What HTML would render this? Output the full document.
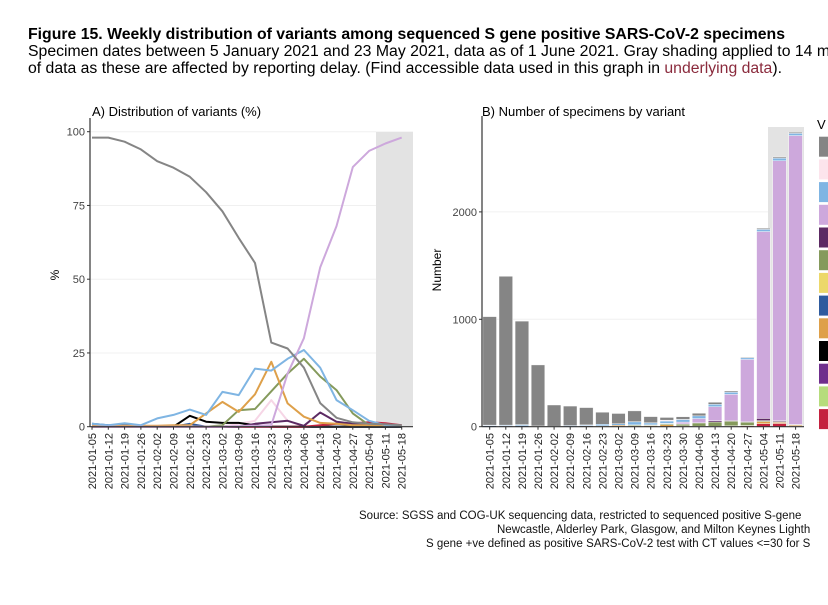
<!DOCTYPE html>
<html><head><meta charset="utf-8"><style>
html,body{margin:0;padding:0;background:#fff;}
svg{display:block;font-family:"Liberation Sans",Arial,sans-serif;}
</style></head><body>
<svg id="fig" width="828" height="605" viewBox="0 0 828 605">
<g>
<text x="28" y="39" font-size="15.5" font-weight="bold" textLength="757" lengthAdjust="spacingAndGlyphs">Figure 15. Weekly distribution of variants among sequenced S gene positive SARS-CoV-2 specimens</text>
<text x="28" y="56" font-size="15.5" textLength="802" lengthAdjust="spacingAndGlyphs">Specimen dates between 5 January 2021 and 23 May 2021, data as of 1 June 2021. Gray shading applied to 14 m</text>
<text x="28" y="73" font-size="15.5" textLength="754" lengthAdjust="spacingAndGlyphs">of data as these are affected by reporting delay. (Find accessible data used in this graph in <tspan fill="#8a2a3c">underlying data</tspan>).</text>
</g>
<g id="panelA"></g>
<g id="panelB"></g>
<g font-size="11.5" fill="#111">
<text x="359" y="519">Source: SGSS and COG-UK sequencing data, restricted to sequenced positive S-gene</text>
<text x="497" y="533">Newcastle, Alderley Park, Glasgow, and Milton Keynes Lighth</text>
<text x="426" y="547">S gene +ve defined as positive SARS-CoV-2 test with CT values &lt;=30 for S</text>
</g>
</svg>
<script>
const dates=["2021-01-05","2021-01-12","2021-01-19","2021-01-26","2021-02-02","2021-02-09","2021-02-16","2021-02-23","2021-03-02","2021-03-09","2021-03-16","2021-03-23","2021-03-30","2021-04-06","2021-04-13","2021-04-20","2021-04-27","2021-05-04","2021-05-11","2021-05-18"];
const pctTicks=[0,25,50,75,100];
const numTicks=[0,1000,2000];
// Panel A shares (%)
const pctGray=[98,98,96.6,94,90,87.8,84.7,79.5,73,64,55.5,28.5,26.5,20,8,3,1.5,1,0.8,0.5];
const pctLilac=[0,0,0,0,0,0,0,0,0,0.2,0.3,0.5,18,30,54,68,88,93.5,96,98];
const pctBlue=[1,0.5,1.2,0.5,2.8,4,5.8,4,11.8,10.7,19.7,19,23,26,20,9,5.6,2,0.5,0.3];
const pctOrange=[0.3,0.3,0.3,0.3,0.3,0.5,0.5,4.5,8.4,5,11,22,7.9,3.4,1.3,1,0.5,0.5,0.4,0.3];
const pctGreen=[0,0,0,0,0,0,0,0,0.5,5.6,6,12,18,23,17,12.4,4.5,0.5,0.3,0.2];
const pctBlack=[0,0,0,0,0,0,3.7,1.7,1.3,1.3,0.5,0,0,0,0,0,0,0,0,0];
const pctDarkPurple=[0,0,0,0,0,0,0,0,0,0,1,1.5,2,0.3,4.8,1.7,1,0.8,0.5,0.3];
const pctRed=[0,0,0,0,0,0,0,0,0,0,0,0,0,0,0.5,1,1.2,1.5,1.2,0.5];
const pctDarkBlue=[1,0.5,0.5,0.3,0,0,1,0,0,0,0,0,0,0,0,0,0,0,0,0];
const pctPink=[0,0,0,0,0,0,0,0,0,1,2,9,2,0,0,0,0,0,0,0];
// Panel B counts
const nGray=[1010,1385,963,568,197,181,161,112,95,100,57,25,25,24,19,11,7,10,10,10];
const nPink=[0,0,0,0,0,0,0,0,0,2,2,8,1,0,0,0,0,0,0,0];
const nBlue=[5,8,10,4,5,10,7,15,14,28,18,22,24,25,22,20,15,20,25,20];
const nLilac=[0,0,0,0,0,0,0,0,0,0,0,1,17,40,130,243,578,1740,2420,2690];
const nDarkPurple=[0,0,0,0,0,0,0,0,0,0,1,1,2,1,12,6,7,20,8,2];
const nGreen=[0,0,0,0,0,0,0,0,1,8,6,10,17,30,40,44,30,9,8,6];
const nDarkBlue=[10,7,10,3,0,0,2,0,0,0,0,0,0,0,0,0,0,0,0,0];
const nOrange=[0,0,0,0,0,1,1,6,11,7,10,19,7,5,3,4,3,20,10,10];
const nBlack=[0,0,0,0,0,0,7,2,2,2,0,0,0,0,0,0,0,0,0,0];
const nRed=[0,0,0,0,0,0,0,0,0,0,0,0,0,0,1,4,8,28,30,3];
const legendColors=["#858585","#fce4ec","#7fb5e3","#cda8dc","#5c2a63","#859a5c","#ecd86a","#2f5b9e","#dea04a","#000000","#6f2e8c","#b6dc7c","#c4223f"];

const NS="http://www.w3.org/2000/svg";
function mk(parent,tag,attrs){const e=document.createElementNS(NS,tag);for(const k in attrs)e.setAttribute(k,attrs[k]);parent.appendChild(e);return e;}

// ---------- Panel A ----------
const A=document.getElementById('panelA');
const ax0=90, ax1=413, ay0=426.7, ay1=131.7;
const xA=i=>92+i*16.3;
const yA=v=>ay0-(v/100)*(ay0-ay1);
let t=mk(A,'text',{x:92,y:116,'font-size':13});t.textContent="A) Distribution of variants (%)";


let sh=mk(A,'rect',{x:376,y:ay1,width:ax1-376,height:ay0-ay1,fill:'#e3e3e3'});


pctTicks.forEach(v=>{
  const g=mk(A,'line',{x1:ax0,x2:376,y1:yA(v),y2:yA(v),stroke:'#f0f0f0','stroke-width':1});
  
  
  mk(A,'line',{x1:ax0-3,x2:ax0,y1:yA(v),y2:yA(v),stroke:'#333'});
  const l=mk(A,'text',{x:85,y:yA(v)+4,'font-size':11,'text-anchor':'end',fill:'#444'});l.textContent=v;
  
  
});
let yl=mk(A,'text',{x:59,y:275,'font-size':12,'text-anchor':'middle',transform:'rotate(-90 59 275)'});yl.textContent="%";


const seriesA=[[pctPink,"#f6d6e6"],[pctDarkBlue,"#2f5b9e"],[pctBlack,"#000"],[pctRed,"#c4223f"],[pctDarkPurple,"#5c2a63"],[pctGreen,"#859a5c"],[pctOrange,"#dea04a"],[pctBlue,"#7fb5e3"],[pctLilac,"#cda8dc"],[pctGray,"#858585"]];
const names=["pink","dark-blue","black","red","dark-purple","green","orange","light-blue","lilac","gray"];
seriesA.forEach((s,k)=>{
  const pts=s[0].map((v,i)=>xA(i).toFixed(1)+","+yA(v).toFixed(1)).join(" ");
  const p=mk(A,'polyline',{points:pts,fill:'none',stroke:s[1],'stroke-width':2,'stroke-linejoin':'round'});
  
  
});
mk(A,'line',{x1:ax0,x2:ax0,y1:118,y2:ay0,stroke:'#333','stroke-width':1.2});
mk(A,'line',{x1:ax0,x2:ax1,y1:ay0,y2:ay0,stroke:'#333','stroke-width':1.2});
dates.forEach((d,i)=>{
  mk(A,'line',{x1:xA(i),x2:xA(i),y1:ay0,y2:ay0+3,stroke:'#333'});
  const l=mk(A,'text',{x:xA(i)+4,y:433,'font-size':11,'text-anchor':'end',fill:'#222',transform:`rotate(-90 ${xA(i)+4} 433)`});l.textContent=d;
  
  
});

// ---------- Panel B ----------
const B=document.getElementById('panelB');
const bx0=482, bx1=804, by0=426.7;
const yB=v=>by0-v*0.1074;
const xB=i=>489.7+i*16.1;
t=mk(B,'text',{x:482,y:116,'font-size':13});t.textContent="B) Number of specimens by variant";


sh=mk(B,'rect',{x:768,y:127,width:bx1-768,height:by0-127,fill:'#e3e3e3'});


numTicks.forEach(v=>{
  const g=mk(B,'line',{x1:bx0,x2:768,y1:yB(v),y2:yB(v),stroke:'#f0f0f0'});
  
  
  mk(B,'line',{x1:bx0-3,x2:bx0,y1:yB(v),y2:yB(v),stroke:'#333'});
  const l=mk(B,'text',{x:477,y:yB(v)+4,'font-size':11,'text-anchor':'end',fill:'#444'});l.textContent=v;
  
  
});
yl=mk(B,'text',{x:441,y:270,'font-size':12,'text-anchor':'middle',transform:'rotate(-90 441 270)'});yl.textContent="Number";


const stack=[[nRed,"#c4223f"],[nBlack,"#000"],[nOrange,"#dea04a"],[nDarkBlue,"#2f5b9e"],[nGreen,"#859a5c"],[nDarkPurple,"#5c2a63"],[nLilac,"#cda8dc"],[nBlue,"#7fb5e3"],[nPink,"#fce4ec"],[nGray,"#858585"]];
dates.forEach((d,i)=>{
  let cum=0;
  stack.forEach(s=>{
    const v=s[0][i]; if(v<=0)return;
    const r=mk(B,'rect',{x:xB(i)-6.8,y:yB(cum+v),width:13.6,height:v*0.1074,fill:s[1],stroke:'#fff','stroke-width':0.4});
    
    
    cum+=v;
  });
});
mk(B,'line',{x1:bx0,x2:bx0,y1:116,y2:by0,stroke:'#333','stroke-width':1.2});
mk(B,'line',{x1:bx0,x2:bx1,y1:by0,y2:by0,stroke:'#333','stroke-width':1.2});
dates.forEach((d,i)=>{
  mk(B,'line',{x1:xB(i),x2:xB(i),y1:by0,y2:by0+3,stroke:'#333'});
  const l=mk(B,'text',{x:xB(i)+4,y:433,'font-size':11,'text-anchor':'end',fill:'#222',transform:`rotate(-90 ${xB(i)+4} 433)`});l.textContent=d;
  
  
});
// legend
t=mk(B,'text',{x:817,y:129,'font-size':13});t.textContent="V";


legendColors.forEach((c,k)=>{
  const r=mk(B,'rect',{x:819,y:136.7+k*22.7,width:12,height:20,fill:c});
  
  
});
</script>
</body></html>
